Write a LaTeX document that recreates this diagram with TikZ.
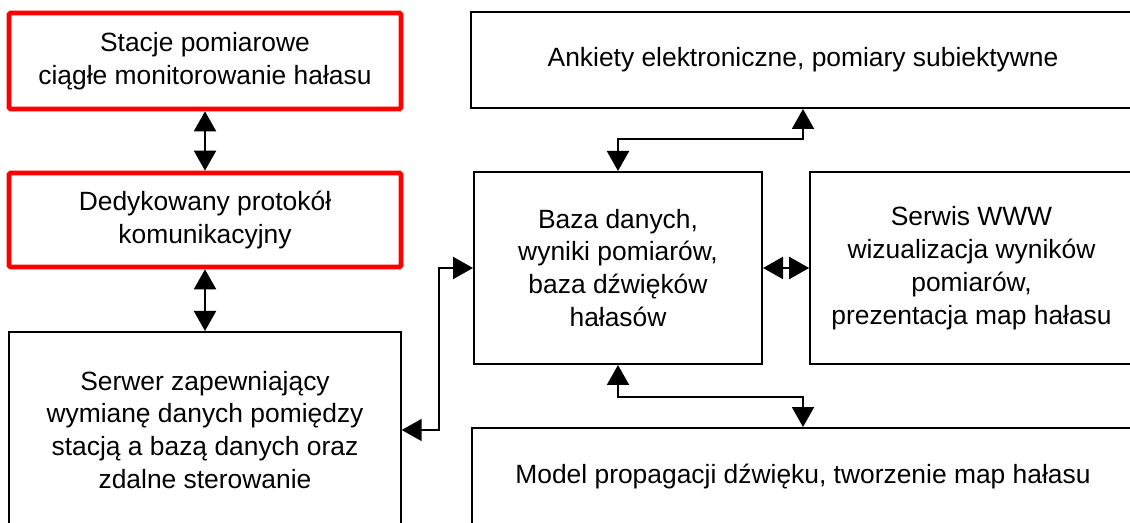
\documentclass[tikz,border=0pt]{standalone}
\usepackage{fontspec}
\setmainfont{Liberation Sans}
\usetikzlibrary{arrows.meta}
\tikzset{
  box/.style={draw=black, line width=1.5pt, rectangle, align=center, inner sep=0pt,
              font=\fontsize{19.8}{24.7}\selectfont},
  redbox/.style={box, draw=red, line width=3.5pt, rounded corners=1pt},
  link/.style={line width=1.5pt, >={Triangle[length=15pt,width=16.5pt]}, <->},
}
\begin{document}
\begin{tikzpicture}[x=0.75pt,y=-0.75pt]
\useasboundingbox (0,0) rectangle (1130,523);
\clip (0,0) rectangle (1130,523);

% left column: stations, protocol, server
\node[redbox, minimum width=294pt, minimum height=72pt] (sta) at (205,61)
  {Stacje pomiarowe\\ciągłe monitorowanie hałasu};
\node[redbox, minimum width=294pt, minimum height=70.5pt] (ded) at (205,220)
  {Dedykowany protokół\\komunikacyjny};
\node[box, minimum width=293.6pt, minimum height=147pt] (ser) at (205,430)
  {Serwer zapewniający\\wymianę danych pomiędzy\\stacją a bazą danych oraz\\zdalne sterowanie};

% right part: surveys, database, web service, propagation model
\node[box, minimum width=498pt, minimum height=72pt] (ank) at (803,60)
  {Ankiety elektroniczne, pomiary subiektywne};
\node[box, minimum width=216pt, minimum height=144pt] (baz) at (618,268)
  {Baza danych,\\wyniki pomiarów,\\baza dźwięków\\hałasów};
\node[box, minimum width=242pt, minimum height=144pt] (srw) at (971.5,268)
  {Serwis WWW\\wizualizacja wyników\\pomiarów,\\prezentacja map hałasu};
\node[box, minimum width=496.5pt, minimum height=73.5pt] (mod) at (803,477)
  {Model propagacji dźwięku, tworzenie map hałasu};

% connectors
\draw[link] (sta.south) -- (ded.north);
\draw[link] (ded.south) -- (ser.north);
\draw[link] (baz.north) -- ++(0,-32) -| (ank.south);
\draw[link] (baz.south) -- ++(0,32) -| (mod.north);
\draw[link] (baz.east) -- (srw.west);
\draw[link] (ser.east) -- ++(37,0) |- (baz.west);
\end{tikzpicture}
\end{document}
